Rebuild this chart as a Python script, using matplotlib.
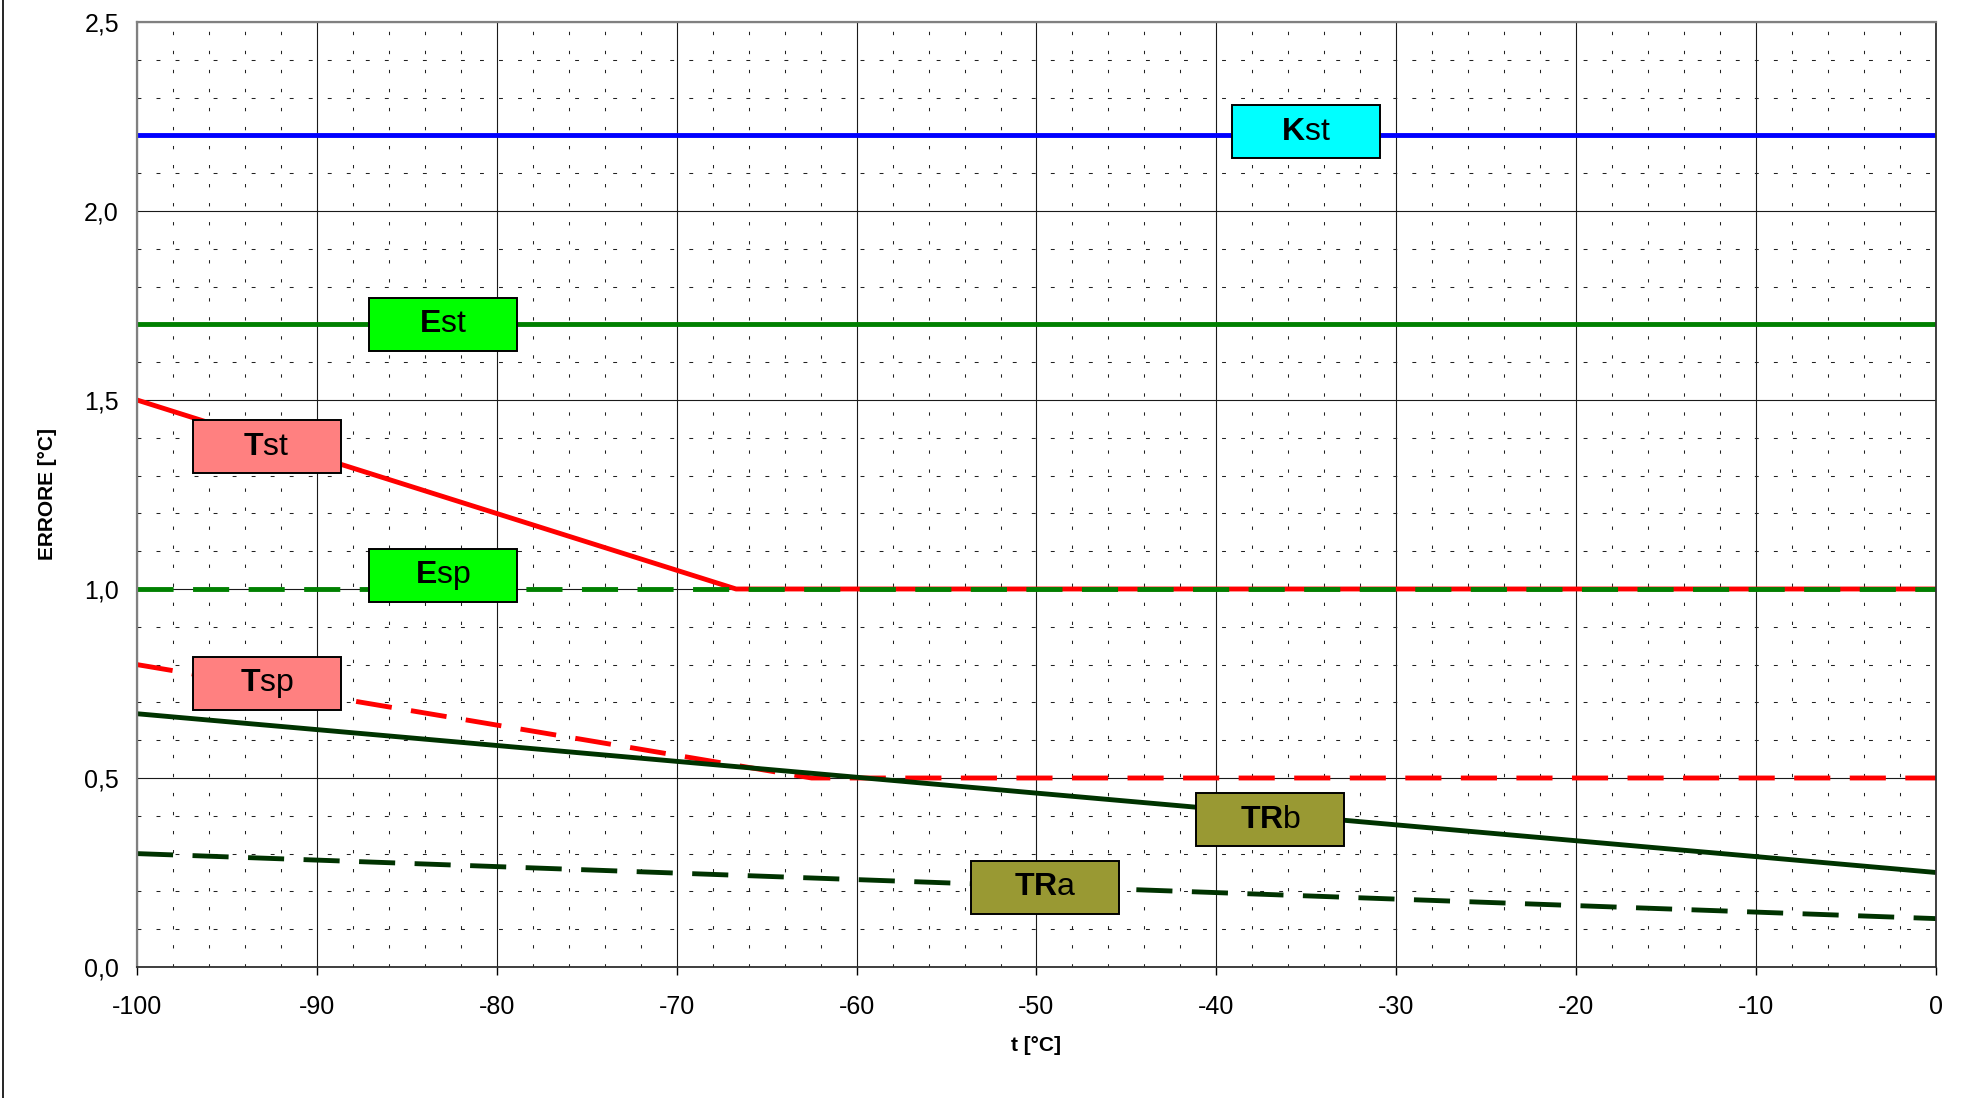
import matplotlib
matplotlib.use("Agg")
import matplotlib.pyplot as plt
from matplotlib.patches import Rectangle
from matplotlib.transforms import ScaledTranslation
from matplotlib.lines import Line2D

plt.rcParams['font.family'] = ['Liberation Sans', 'DejaVu Sans']
plt.rcParams['mathtext.fontset'] = 'custom'
plt.rcParams['mathtext.rm'] = 'Liberation Sans'
plt.rcParams['mathtext.bf'] = 'Liberation Sans:bold'
plt.rcParams['lines.scale_dashes'] = False

# --- data ---
t_kst = [-100, 0]
kst = [2.2, 2.2]
t_est = [-100, 0]
est = [1.7, 1.7]
t_esp = [-100, 0]
esp = [1.0, 1.0]
t_tst = [-100, -66.7, 0]
tst = [1.5, 1.0, 1.0]
t_tsp = [-100, -62.5, 0]
tsp = [0.8, 0.5, 0.5]
t_trb = [-100, 0]
trb = [0.67, 0.25]
t_tra = [-100, 0]
tra = [0.30, 0.128]

x_ticks = [-100, -90, -80, -70, -60, -50, -40, -30, -20, -10, 0]
x_ticklabels = ['-100', '-90', '-80', '-70', '-60', '-50', '-40', '-30', '-20', '-10', '0']
y_ticks = [0.0, 0.5, 1.0, 1.5, 2.0, 2.5]
y_ticklabels = ['0,0', '0,5', '1,0', '1,5', '2,0', '2,5']

# label boxes: (text, x, y, face colour)
box_texts = [r'$\mathbf{K}$st', r'$\mathbf{E}$st', r'$\mathbf{E}$sp', r'$\mathbf{T}$st',
             r'$\mathbf{T}$sp', r'$\mathbf{TR}$b', r'$\mathbf{TR}$a']
box_x = [-35, -83, -83, -92.8, -92.8, -37, -49.5]
box_y = [2.21, 1.70, 1.035, 1.376, 0.75, 0.39, 0.211]
box_colors = ['#00FFFF', '#00FF00', '#00FF00', '#FF8080', '#FF8080', '#999933', '#999933']

RED = '#FF0000'
GREEN = '#008000'
DKGREEN = '#003300'
DASH = (0, (26, 14))

fig = plt.figure(figsize=(19.7, 10.98), dpi=100)
ax = fig.add_axes([0.06954, 0.11931, 0.91320, 0.86066])

ax.set_xlim(-100, 0)
ax.set_ylim(0, 2.5)

# grid
ax.set_xticks(x_ticks)
ax.set_xticklabels(x_ticklabels)
ax.set_yticks(y_ticks)
ax.set_yticklabels(y_ticklabels)
ax.set_xticks([v for v in range(-98, 0, 2) if v % 10 != 0], minor=True)
ax.set_yticks([i / 10 for i in range(1, 25) if i % 5 != 0], minor=True)
ax.grid(which='major', color='#1a1a1a', linewidth=0.8, linestyle='-')
ax.xaxis.grid(which='minor', color='#222222', linewidth=0.75, linestyle=(0, (2.4, 11.3)))
ax.yaxis.grid(which='minor', color='#222222', linewidth=0.75, linestyle=(0, (2.8, 10.9)))
ax.set_axisbelow(True)

ax.tick_params(axis='x', which='major', length=6, width=1, color='black',
               direction='out', pad=14, labelsize=18)
ax.tick_params(axis='y', which='major', length=0, pad=13, labelsize=18)
ax.tick_params(which='minor', length=0)

for side in ['left', 'top']:
    ax.spines[side].set_color('#808080')
    ax.spines[side].set_linewidth(1.6)
for side in ['bottom', 'right']:
    ax.spines[side].set_color('#303030')
    ax.spines[side].set_linewidth(1.3)

# series
lw = 3.5
ax.plot(t_kst, kst, color='#0000FF', lw=lw, solid_capstyle='butt')
ax.plot(t_est, est, color=GREEN, lw=lw, solid_capstyle='butt')
ax.plot(t_tst, tst, color=RED, lw=lw, solid_capstyle='butt')
ax.plot(t_esp, esp, color=GREEN, lw=lw, linestyle=DASH, dash_capstyle='butt')
ax.plot(t_tsp, tsp, color=RED, lw=lw, linestyle=DASH, dash_capstyle='butt')
ax.plot(t_trb, trb, color=DKGREEN, lw=lw, solid_capstyle='butt')
ax.plot(t_tra, tra, color=DKGREEN, lw=lw, linestyle=DASH, dash_capstyle='butt')

# label boxes, fixed size in inches, centred on data point
bw, bh = 1.48, 0.53
for txt, bx, by, fc in zip(box_texts, box_x, box_y, box_colors):
    tr = fig.dpi_scale_trans + ScaledTranslation(bx, by, ax.transData)
    ax.add_patch(Rectangle((-bw / 2, -bh / 2), bw, bh, transform=tr, facecolor=fc,
                           edgecolor='black', linewidth=1.4, zorder=5, clip_on=False))
    ax.text(bx, by, txt, ha='center', va='center', fontsize=23, zorder=6)

ax.set_xlabel('t [°C]', fontsize=15, fontweight='bold')
ax.set_ylabel('ERRORE [°C]', fontsize=15, fontweight='bold')
ax.xaxis.set_label_coords(0.5, -0.073)
ax.yaxis.set_label_coords(-0.0445, 0.5)

# left frame line of the chart area
fig.add_artist(Line2D([3 / 1970, 3 / 1970], [0, 1], transform=fig.transFigure,
                      color='black', linewidth=1.2))

fig.savefig('out.png', dpi=100)
